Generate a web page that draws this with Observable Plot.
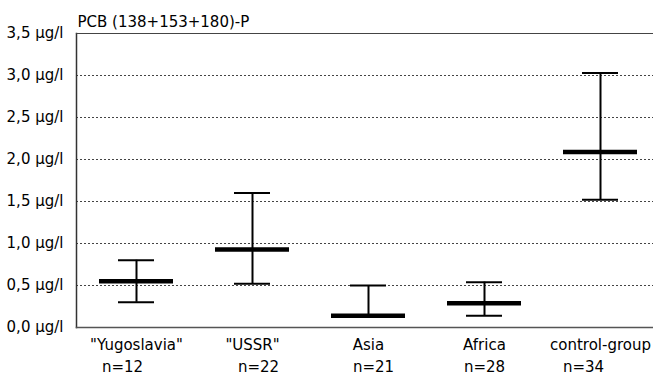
<!DOCTYPE html>
<html>
<head>
<meta charset="utf-8">
<script src="https://cdn.jsdelivr.net/npm/d3@7"></script>
<script src="https://cdn.jsdelivr.net/npm/@observablehq/plot@0.6"></script>
<style>
  html, body { margin: 0; padding: 0; background: #fff; }
  #chart svg { display: block; }
</style>
</head>
<body>
<div id="chart"></div>
<script>
const groups = ["\"Yugoslavia\"", "\"USSR\"", "Asia", "Africa", "control-group"];
const counts = ["n=12", "n=22", "n=21", "n=28", "n=34"];
const lower  = [0.30, 0.52, 0.14, 0.14, 1.52];
const median = [0.55, 0.93, 0.14, 0.29, 2.09];
const upper  = [0.80, 1.60, 0.50, 0.54, 3.03];
const yTicks = [0, 0.5, 1, 1.5, 2, 2.5, 3, 3.5];
const title = "PCB (138+153+180)-P";

const data = groups.map((g, i) => ({group: g, n: counts[i], lo: lower[i], med: median[i], hi: upper[i]}));

const font = "DejaVu Sans, sans-serif";
// horizontal nudges (style) of the "n=" labels, as in the reference
const nShift = {"\"Yugoslavia\"": -14, "\"USSR\"": 6, "Asia": 5, "Africa": 0, "control-group": -17};

const chart = Plot.plot({
  width: 653,
  height: 376,
  marginLeft: 76,
  marginTop: 33,
  marginBottom: 49,
  marginRight: 0,
  style: {fontFamily: font, fontSize: "15px", color: "#000", background: "#fff"},
  x: {domain: groups, range: [76, 659], padding: 0},
  y: {domain: [0, 3.5]},
  marks: [
    Plot.gridY(yTicks.filter(d => d > 0 && d < 3.5), {stroke: "#444", strokeOpacity: 1, strokeDasharray: "2,2", strokeWidth: 1}),
    Plot.frame({anchor: "left", stroke: "#333", strokeWidth: 1.5}),
    Plot.frame({anchor: "bottom", stroke: "#555", strokeWidth: 1.5}),
    Plot.frame({anchor: "top", stroke: "#444", strokeWidth: 1.2}),
    Plot.axisY({ticks: yTicks, tickSize: 0, tickPadding: 13, label: null,
      tickFormat: d => d.toFixed(1).replace(".", ",") + " µg/l", fontSize: 15}),
    Plot.axisX({tickSize: 0, tickPadding: 12, label: null, fontSize: 15}),
    ...groups.map(g => Plot.text(data.filter(d => d.group === g), {
      x: "group", text: "n", frameAnchor: "bottom", lineAnchor: "bottom",
      dy: 44, dx: nShift[g], fontSize: 15, fill: "#000"})),
    Plot.ruleX(data, {x: "group", y1: "lo", y2: "hi", stroke: "#000", strokeWidth: 2}),
    Plot.tickY(data, {x: "group", y: "hi", stroke: "#000", strokeWidth: 2, insetLeft: 40, insetRight: 40}),
    Plot.tickY(data, {x: "group", y: "lo", stroke: "#000", strokeWidth: 2, insetLeft: 40, insetRight: 40}),
    Plot.tickY(data, {x: "group", y: "med", stroke: "#000", strokeWidth: 4.5, insetLeft: 21, insetRight: 21}),
    Plot.text([title], {frameAnchor: "top-left", textAnchor: "start", lineAnchor: "bottom", dx: 1, dy: -7, fontSize: 15, fill: "#000"})
  ]
});
document.getElementById("chart").append(chart);
</script>
</body>
</html>
